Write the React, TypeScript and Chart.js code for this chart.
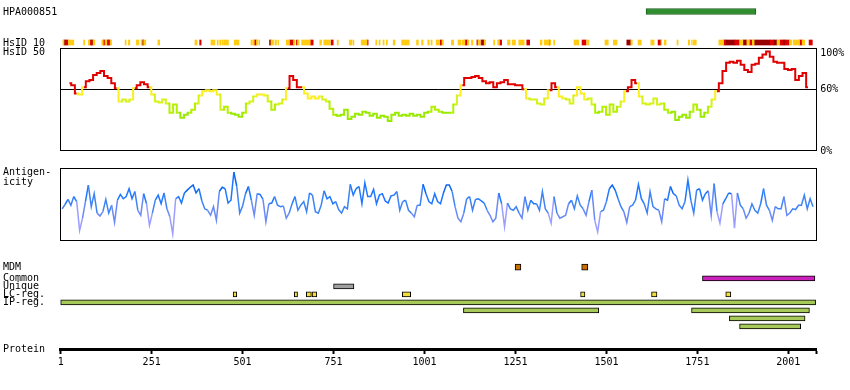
import React, { useEffect, useRef } from 'react';
import { Chart, registerables } from 'chart.js';

Chart.register(...registerables);

// ---------------- data ----------------
const proteinLength = 2079;
const proteinTicks = [1, 251, 501, 751, 1001, 1251, 1501, 1751, 2001];
const hsidPercentTicks = [0, 60, 100];

const epitopeName = 'HPA000851';
const epitopeRegion: [number, number] = [1610, 1912];

const hsid10Yellow: [number, number][] = [
  [7, 10], [22, 37], [64, 67], [77, 81], [90, 95], [114, 118], [123, 128], [137, 141], [178, 181], [187, 191],
  [209, 216], [222, 225], [229, 235], [268, 273], [370, 376], [414, 425], [431, 434], [438, 441], [444, 447],
  [449, 462], [478, 491], [524, 528], [530, 533], [539, 543], [546, 548], [579, 586], [590, 594], [598, 600],
  [621, 630], [641, 645], [652, 656], [663, 687], [713, 718], [724, 742], [761, 764], [794, 801], [804, 807],
  [827, 843], [867, 870], [876, 879], [887, 890], [896, 899], [915, 920], [938, 959], [979, 984], [993, 997],
  [1010, 1014], [1019, 1022], [1033, 1042], [1049, 1053], [1075, 1081], [1093, 1101], [1104, 1112], [1119, 1123],
  [1130, 1134], [1148, 1154], [1165, 1169], [1191, 1194], [1202, 1207], [1229, 1236], [1242, 1251], [1260, 1275],
  [1319, 1324], [1330, 1343], [1345, 1348], [1356, 1359], [1412, 1425], [1447, 1453], [1497, 1506], [1520, 1530],
  [1568, 1572], [1588, 1597], [1623, 1632], [1651, 1653], [1660, 1665], [1695, 1698], [1726, 1730], [1735, 1737],
  [1740, 1748], [1810, 1823], [1867, 1876], [1887, 1894], [1902, 1907], [1970, 1977], [2004, 2010], [2014, 2032],
  [2039, 2046],
];
const hsid10Red: [number, number][] = [
  [15, 22], [81, 86], [118, 123], [132, 137], [383, 387], [533, 539], [630, 641], [649, 652], [687, 695],
  [744, 750], [843, 846], [1044, 1049], [1112, 1119], [1145, 1148], [1156, 1159], [1207, 1213], [1282, 1290],
  [1343, 1345], [1434, 1445], [1643, 1651], [1823, 1828], [1854, 1867], [1894, 1902], [1951, 1960], [1977, 1986],
  [1992, 2004], [2032, 2039], [2058, 2067],
];
const hsid10DarkRed: [number, number][] = [
  [10, 15], [86, 90], [128, 132], [225, 229], [575, 579], [1159, 1165], [1557, 1568], [1828, 1854], [1876, 1887],
  [1907, 1951], [1960, 1970], [1986, 1992],
];

const hsid50Start = 25;
const hsid50Step = 10;
const hsid50 = [
  66, 64, 56, 55, 62, 68, 69, 74, 76, 78, 73, 71, 66, 61, 48, 50, 48, 50, 61, 64,
  67, 65, 62, 55, 48, 47, 50, 46, 37, 45, 37, 32, 35, 37, 40, 46, 54, 58, 59, 58,
  59, 55, 40, 43, 37, 36, 35, 33, 37, 46, 48, 53, 55, 55, 54, 48, 40, 45, 46, 50,
  61, 73, 69, 62, 62, 56, 51, 53, 51, 53, 50, 48, 41, 35, 34, 35, 40, 31, 33, 36,
  35, 38, 37, 34, 36, 32, 34, 33, 29, 35, 37, 34, 35, 34, 36, 34, 35, 33, 37, 38,
  43, 40,
  38, 37, 37, 37, 45, 54, 64, 71, 71, 72, 73, 71, 68, 66, 67, 62, 66, 67, 69, 65,
  65, 64, 64, 60, 51, 50, 50, 46, 45, 51, 59, 66, 62, 53, 51, 50, 46, 54, 62, 56,
  50, 51, 45, 37, 38, 43, 35, 45, 38, 43, 48, 58, 62, 69, 66, 53, 46, 45, 46, 51,
  45, 46, 40, 37, 38, 30, 33, 35, 32, 38, 45, 40, 33, 37, 43, 50, 58, 66, 78, 86,
  87, 86, 88, 84, 79, 77, 84, 85, 91, 94, 97, 92, 87, 86, 86, 80, 79, 80, 69, 73,
  76, 62,
];

const antigenStart = 5;
const antigenStep = 8;
const antigenicity = [
  44, 50, 57, 49, 61, 54, 14, 31, 54, 77, 47, 65, 38, 34, 40, 57, 38, 49, 25, 56,
  64, 58, 61, 72, 58, 68, 42, 35, 65, 51, 21, 38, 56, 63, 51, 66, 44, 33, 9, 58,
  61, 52, 66, 70, 74, 77, 66, 72, 55, 44, 42, 35, 47, 28, 68, 74, 72, 52, 56, 95,
  75, 38, 48, 65, 75, 56, 35, 65, 64, 57, 26, 51, 52, 61, 49, 47, 48, 31, 38, 51,
  61, 42, 49, 54, 40, 66, 63, 40, 38, 49, 69, 58, 61, 51, 54, 43, 38, 47, 44, 78,
  63, 72, 75, 51, 80, 61, 61, 71, 51, 63, 65, 55, 52, 62, 63, 68, 42, 54, 56, 42,
  38, 33, 49, 49, 78, 65, 54, 51, 65, 54, 51, 66, 77, 77, 68, 47, 31, 26, 38, 58,
  61, 42, 57, 58, 55, 52, 42, 35, 26, 31, 66, 51, 19, 52, 44, 42, 47, 38, 31, 61,
  42, 56, 51, 51, 42, 68, 44, 38, 24, 61, 38, 31, 33, 35, 51, 56, 44, 62, 49, 44,
  35, 54, 70, 28, 12, 40, 42, 54, 72, 77, 70, 58, 47, 40, 25, 47, 49, 56, 78, 58,
  51, 38, 68, 47, 44, 42, 26, 58, 56, 75, 65, 62, 49, 44, 54, 84, 56, 38, 70, 72,
  56, 65, 69, 35, 79, 40, 24, 51, 58, 66, 65, 17, 66, 49, 44, 31, 38, 51, 42, 38,
  51, 72, 49, 42, 28, 47, 44, 44, 61, 35, 38, 44, 43, 49, 49, 63, 44, 58, 47,
];

const trackLabels = ['MDM', 'Common', 'Unique', 'LC-reg.', 'IP-reg.'];
const mdmRegions: [number, number][] = [[1250, 1266], [1433, 1450]];
const commonRegions: [number, number][] = [[1765, 2074]];
const uniqueRegions: [number, number][] = [[751, 807]];
const lcRegions: [number, number][] = [
  [475, 485], [643, 652], [676, 690], [692, 705], [940, 963], [1430, 1442], [1625, 1640], [1829, 1843],
];
// [start, end, lane]
const ipRegions: [number, number, number][] = [
  [1, 2076, 0], [1108, 1480, 1], [1735, 2059, 1], [1839, 2047, 2], [1867, 2035, 3],
];

// ---------------- layout & style ----------------
const WIDTH = 850;
const PLOT_LEFT = 60.7;
const PLOT_RIGHT_PAD = WIDTH - 816.7;
const FONT_FAMILY = '"DejaVu Sans Mono", monospace';
const trackSlots = [0, 1.4, 2.4, 3.4, 4.4];

function hsColor(v: number) {
  if (v >= 60) return '#e00000';
  if (v >= 52) return '#fbee22';
  if (v >= 45) return '#d6f21a';
  if (v >= 38) return '#b4f000';
  if (v >= 30) return '#99ea00';
  return '#66cc00';
}
function agColor(v: number) {
  if (v >= 85) return '#0048b8';
  if (v >= 65) return '#0a66f0';
  if (v >= 50) return '#1f78ff';
  if (v >= 38) return '#3f84f5';
  if (v >= 25) return '#6a8af5';
  return '#9c9eff';
}

const hiddenX = { type: 'linear', min: 1, max: proteinLength, display: false };

function drawText(chart: any, items: [string, number][], x: number) {
  const ctx = chart.ctx;
  ctx.save();
  ctx.font = `10px ${FONT_FAMILY}`;
  ctx.fillStyle = '#000';
  ctx.textBaseline = 'middle';
  ctx.textAlign = 'left';
  for (const [t, y] of items) ctx.fillText(t, x, y);
  ctx.restore();
}

function leftLabels(getItems: (chart: any) => [string, number][]) {
  return {
    id: 'leftLabels',
    afterDraw(chart: any) {
      drawText(chart, getItems(chart), 3);
    },
  };
}

const percentLabels = {
  id: 'percentLabels',
  afterDraw(chart: any) {
    const y = chart.scales.y;
    const top = chart.chartArea.top;
    const items: [string, number][] = hsidPercentTicks.map((v) => [
      v + '%',
      Math.max(y.getPixelForValue(v) + 0.5, top + 4.5),
    ]);
    drawText(chart, items, chart.chartArea.right + 3.5);
  },
};

const framePlugin = {
  id: 'frame',
  afterDatasetsDraw(chart: any) {
    const { left, right, top, bottom } = chart.chartArea;
    const ctx = chart.ctx;
    ctx.save();
    ctx.strokeStyle = '#000';
    ctx.lineWidth = 1;
    const l = Math.floor(left) + 0.5;
    const r = Math.floor(right) + 0.5;
    ctx.strokeRect(l, top, r - l, bottom - top);
    ctx.restore();
  },
};

const baseOptions = {
  animation: false,
  responsive: false,
  devicePixelRatio: 1,
  plugins: { legend: { display: false }, tooltip: { enabled: false } },
  events: [],
};

function barSet(regions: [number, number][], y: any, color: string, thickness: number, border = 1, borderColor = '#000') {
  return {
    data: regions.map((r) => ({ x: r, y })),
    backgroundColor: color,
    borderColor,
    borderWidth: border,
    borderSkipped: false,
    barThickness: thickness,
    maxBarThickness: thickness,
    grouped: false,
    clip: false,
  };
}

function buildHead() {
  return {
    type: 'bar',
    data: {
      datasets: [
        barSet([epitopeRegion], epitopeName, '#2f8f2f', 6, 1, '#1d5f1d'),
        barSet(hsid10Yellow, 'HsID 10', '#ffcc11', 5, 0),
        barSet(hsid10Red, 'HsID 10', '#dd0000', 5, 0),
        barSet(hsid10DarkRed, 'HsID 10', '#990000', 5, 0),
      ],
    },
    options: {
      ...baseOptions,
      indexAxis: 'y',
      layout: { padding: { left: PLOT_LEFT, right: PLOT_RIGHT_PAD, top: 11.5, bottom: 5.5 } },
      scales: {
        x: hiddenX,
        y: { type: 'category', labels: [epitopeName, 'HsID 10'], offset: false, display: false },
      },
    },
    plugins: [
      leftLabels((c) => {
        const y = c.scales.y;
        return [
          [epitopeName, y.getPixelForValue(0) + 1],
          ['HsID 10', y.getPixelForValue(1) + 0.5],
        ];
      }),
    ],
  };
}

function buildHsid() {
  return {
    type: 'line',
    data: {
      datasets: [
        {
          data: hsid50.map((v, i) => ({ x: hsid50Start + i * hsid50Step, y: v })),
          borderWidth: 2,
          pointRadius: 0,
          stepped: 'middle',
          borderColor: '#e00000',
          segment: { borderColor: (ctx: any) => hsColor((ctx.p0.parsed.y + ctx.p1.parsed.y) / 2) },
          clip: false,
        },
      ],
    },
    options: {
      ...baseOptions,
      layout: { padding: { left: PLOT_LEFT, right: 0, top: 8.5, bottom: 9.5 } },
      scales: {
        x: hiddenX,
        y: {
          type: 'linear',
          position: 'right',
          min: 0,
          max: 100,
          afterFit: (s: any) => { s.width = PLOT_RIGHT_PAD; },
          afterBuildTicks: (s: any) => { s.ticks = hsidPercentTicks.map((value) => ({ value })); },
          grid: {
            drawTicks: false,
            lineWidth: 1,
            color: (ctx: any) => (ctx.tick && ctx.tick.value === 60 ? '#000' : 'rgba(0,0,0,0)'),
          },
          border: { display: false },
          ticks: { display: false },
        },
      },
    },
    plugins: [framePlugin, percentLabels, leftLabels((c) => [['HsID 50', c.chartArea.top + 4]])],
  };
}

function buildAntigen() {
  return {
    type: 'line',
    data: {
      datasets: [
        {
          data: antigenicity.map((v, i) => ({ x: antigenStart + i * antigenStep, y: v })),
          borderWidth: 1.5,
          pointRadius: 0,
          borderColor: '#1f78ff',
          segment: { borderColor: (ctx: any) => agColor(Math.min(ctx.p0.parsed.y, ctx.p1.parsed.y)) },
          clip: false,
        },
      ],
    },
    options: {
      ...baseOptions,
      layout: { padding: { left: PLOT_LEFT, right: PLOT_RIGHT_PAD, top: 8.5, bottom: 9.5 } },
      scales: {
        x: hiddenX,
        y: { type: 'linear', min: 0, max: 100, display: false },
      },
    },
    plugins: [
      framePlugin,
      leftLabels((c) => [
        ['Antigen-', c.chartArea.top + 4],
        ['icity', c.chartArea.top + 14],
      ]),
    ],
  };
}

function buildTracks() {
  return {
    type: 'bar',
    data: {
      datasets: [
        barSet(mdmRegions, trackSlots[0], '#c87000', 6),
        barSet(commonRegions, trackSlots[1], '#cc22bb', 5),
        barSet(uniqueRegions, trackSlots[2], '#a0a0a0', 5),
        barSet(lcRegions, trackSlots[3], '#f2dc3a', 5),
        {
          ...barSet([], 0, '#a6c95a', 5),
          data: ipRegions.map(([s, e, lane]) => ({ x: [s, e], y: trackSlots[4] + lane })),
        },
      ],
    },
    options: {
      ...baseOptions,
      indexAxis: 'y',
      layout: { padding: { left: PLOT_LEFT, right: PLOT_RIGHT_PAD, top: 10, bottom: 0 } },
      scales: {
        x: {
          type: 'linear',
          position: 'bottom',
          min: 1,
          max: proteinLength,
          afterFit: (s: any) => { s.height = 41; },
          afterBuildTicks: (s: any) => {
            s.ticks = [...proteinTicks, proteinLength].map((value) => ({ value }));
          },
          grid: { drawOnChartArea: false, drawTicks: true, tickLength: 5, tickWidth: 2, tickColor: '#000' },
          border: { display: true, color: '#000', width: 3 },
          ticks: {
            autoSkip: false,
            maxRotation: 0,
            padding: 2,
            color: '#000',
            font: { family: FONT_FAMILY, size: 10 },
            callback: (v: any) => (proteinTicks.includes(v) ? String(v) : ''),
          },
        },
        y: { type: 'linear', min: 0, max: 9.1, reverse: true, display: false },
      },
    },
    plugins: [
      leftLabels((c) => {
        const y = c.scales.y;
        const items: [string, number][] = trackLabels.map((t, i) => [t, y.getPixelForValue(trackSlots[i]) + 0.5]);
        items.push(['Protein', c.chartArea.bottom + 0.5]);
        return items;
      }),
    ],
  };
}

function ChartCanvas({ top, height, build }: { top: number; height: number; build: () => any }) {
  const ref = useRef<HTMLCanvasElement>(null);
  useEffect(() => {
    const chart = new Chart(ref.current as HTMLCanvasElement, build());
    return () => chart.destroy();
  }, []);
  return (
    <canvas
      ref={ref}
      width={WIDTH}
      height={height}
      style={{ position: 'absolute', left: 0, top, width: WIDTH, height }}
    />
  );
}

export default function App() {
  return (
    <div style={{ position: 'fixed', left: 0, top: 0, width: WIDTH, height: 390, background: '#fff', overflow: 'hidden' }}>
      <ChartCanvas top={0} height={48} build={buildHead} />
      <ChartCanvas top={40} height={120} build={buildHsid} />
      <ChartCanvas top={160} height={90} build={buildAntigen} />
      <ChartCanvas top={248} height={142} build={buildTracks} />
    </div>
  );
}
